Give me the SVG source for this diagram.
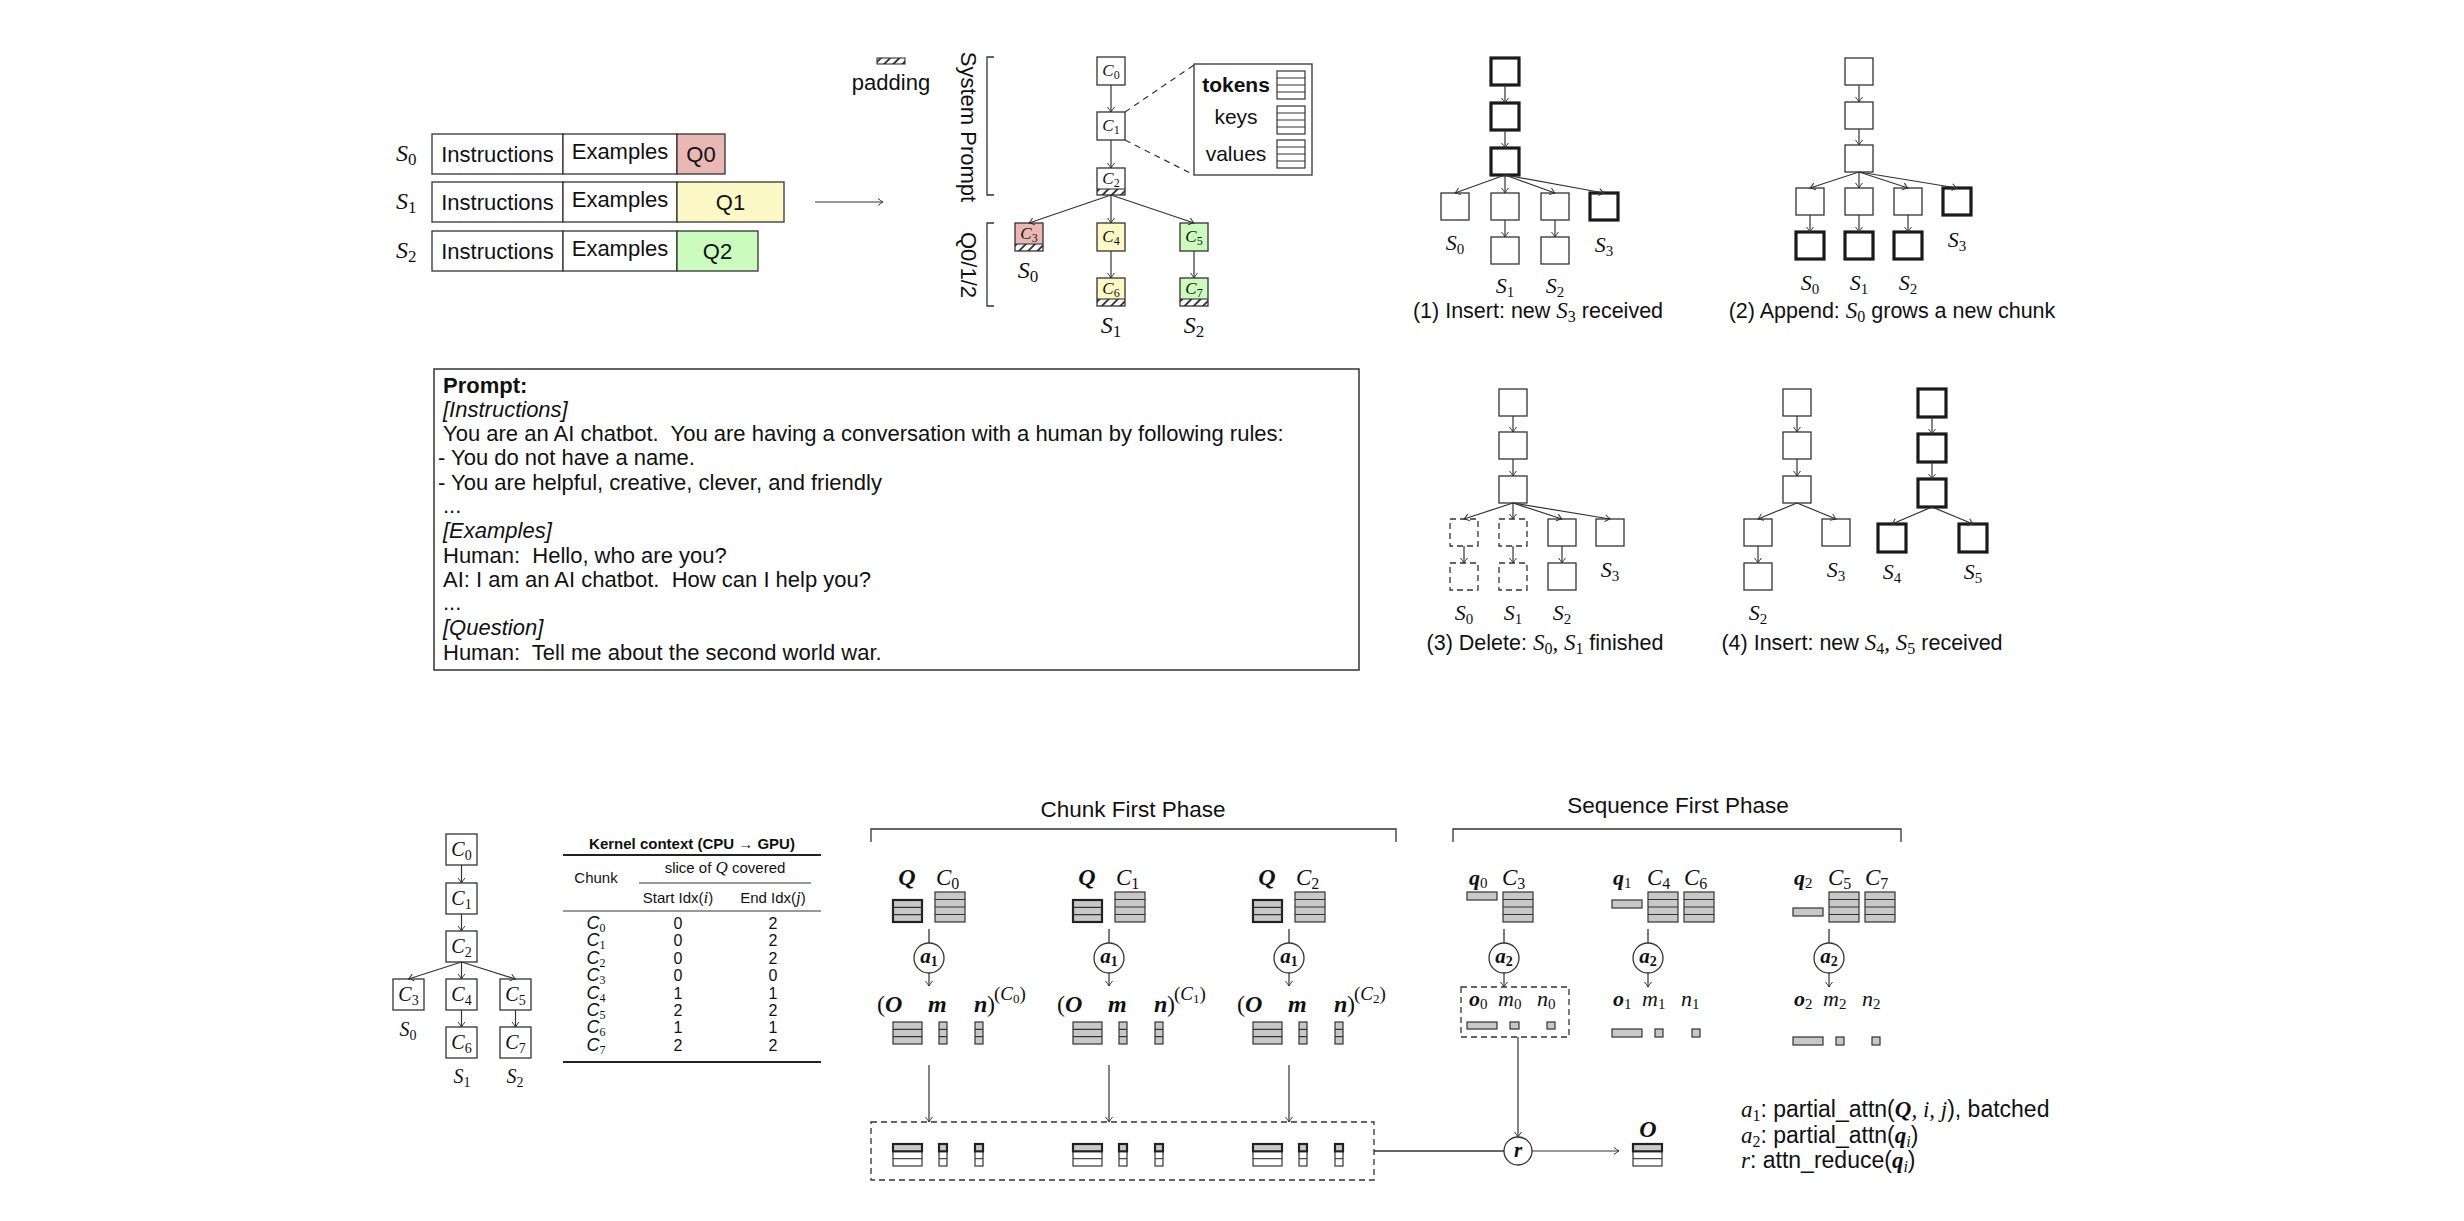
<svg xmlns="http://www.w3.org/2000/svg" width="2464" height="1221" viewBox="0 0 2464 1221">
<defs>
<style>
text{font-family:"Liberation Sans",Arial,sans-serif;fill:#111}
.si{font-family:"Liberation Sans",Arial,sans-serif;font-style:italic}
.b{font-weight:bold}
.m{font-family:"Liberation Serif","Times New Roman",serif;font-style:italic}
.mb{font-family:"Liberation Serif","Times New Roman",serif;font-style:italic;font-weight:bold}
.u{font-family:"Liberation Serif","Times New Roman",serif;font-style:normal;font-weight:normal}
.ub{font-family:"Liberation Serif","Times New Roman",serif;font-style:normal;font-weight:bold}
.box{fill:#fff;stroke:#333;stroke-width:1.3}
.tb{fill:#fff;stroke:#1a1a1a;stroke-width:3.2}
.db{fill:#fff;stroke:#333;stroke-width:1.3;stroke-dasharray:6 4}
.e{fill:none;stroke:#333;stroke-width:1.2;marker-end:url(#arr)}
.l{fill:none;stroke:#333;stroke-width:1.3}
.gf{fill:#c8c8c8;stroke:#333;stroke-width:1.2}
.wf{fill:#fff;stroke:#333;stroke-width:1.2}
.rl{fill:none;stroke:#333;stroke-width:1.1}
.circ{fill:#fff;stroke:#333;stroke-width:1.3}
.pink{fill:#eab8b3}
.yel{fill:#fcf9c6}
.grn{fill:#cbfcbd}
.t22{font-size:22px}
</style>
<marker id="arr" viewBox="-6 -5 7 10" refX="0" refY="0" markerWidth="7" markerHeight="10" markerUnits="userSpaceOnUse" orient="auto">
<path d="M-5,-3.5 Q-2,-1 0,0 Q-2,1 -5,3.5" fill="none" stroke="#333" stroke-width="1"/>
</marker>
<pattern id="hatch" patternUnits="userSpaceOnUse" width="6.5" height="6.5" patternTransform="rotate(45)">
<rect width="6.5" height="6.5" fill="#fff"/>
<line x1="1" y1="0" x2="1" y2="6.5" stroke="#111" stroke-width="1.6"/>
</pattern>
<g id="s4g"><rect class="gf" width="30" height="30"/><path class="rl" d="M0,7.5H30M0,15H30M0,22.5H30"/></g>
<g id="s3g"><rect class="gf" width="29" height="22"/><path class="rl" d="M0,7.33H29M0,14.67H29"/></g>
<g id="s3gt"><rect class="gf" width="29" height="22" style="stroke-width:2.2;stroke:#222"/><path class="rl" d="M0,7.33H29M0,14.67H29"/></g>
<g id="c3g"><rect class="gf" width="8" height="22"/><path class="rl" d="M0,7.33H8M0,14.67H8"/></g>
<g id="s3t"><rect class="wf" width="29" height="22"/><rect class="gf" width="29" height="7.33" style="stroke-width:2.2;stroke:#222"/><path class="rl" d="M0,14.67H29"/></g>
<g id="c3t"><rect class="wf" width="8" height="22"/><rect class="gf" width="8" height="7.33" style="stroke-width:2.2;stroke:#222"/><path class="rl" d="M0,14.67H8"/></g>
<g id="s4w"><rect class="wf" width="28" height="28"/><path class="rl" d="M0,7H28M0,14H28M0,21H28"/></g>
</defs>
<rect width="2464" height="1221" fill="#fff"/>

<!-- ===== Top-left: sequences ===== -->
<g id="seq-S0">
<text class="m" x="396" y="161" font-size="24">S<tspan class="u" font-size="17" dy="4">0</tspan></text>
<rect class="box" x="432" y="134" width="131" height="40"/>
<rect class="box" x="563" y="134" width="114" height="40"/>
<rect class="box pink" x="677" y="134" width="48" height="40"/>
<text class="t22" x="497.5" y="162" text-anchor="middle">Instructions</text>
<text class="t22" x="620" y="159" text-anchor="middle">Examples</text>
<text class="t22" x="701" y="162" text-anchor="middle">Q0</text>
</g>
<g id="seq-S1">
<text class="m" x="396" y="209" font-size="24">S<tspan class="u" font-size="17" dy="4">1</tspan></text>
<rect class="box" x="432" y="182" width="131" height="40"/>
<rect class="box" x="563" y="182" width="114" height="40"/>
<rect class="box yel" x="677" y="182" width="107" height="40"/>
<text class="t22" x="497.5" y="210" text-anchor="middle">Instructions</text>
<text class="t22" x="620" y="207" text-anchor="middle">Examples</text>
<text class="t22" x="730.5" y="210" text-anchor="middle">Q1</text>
</g>
<g id="seq-S2">
<text class="m" x="396" y="258" font-size="24">S<tspan class="u" font-size="17" dy="4">2</tspan></text>
<rect class="box" x="432" y="231" width="131" height="40"/>
<rect class="box" x="563" y="231" width="114" height="40"/>
<rect class="box grn" x="677" y="231" width="81" height="40"/>
<text class="t22" x="497.5" y="259" text-anchor="middle">Instructions</text>
<text class="t22" x="620" y="256" text-anchor="middle">Examples</text>
<text class="t22" x="717.5" y="259" text-anchor="middle">Q2</text>
</g>

<!-- ===== Top-middle tree ===== -->
<g id="legend-padding">
<rect x="877" y="58" width="28" height="6" fill="url(#hatch)" stroke="#222" stroke-width="1"/>
<text class="t22" x="891" y="90" text-anchor="middle">padding</text>
</g>
<g id="label-system-prompt">
<path class="l" d="M994,57H987V195H994"/>
<text class="t22" x="961" y="127" text-anchor="middle" transform="rotate(90 961 127)">System Prompt</text>
</g>
<g id="label-q012">
<path class="l" d="M994,223H987V306H994"/>
<text class="t22" x="961" y="265" text-anchor="middle" transform="rotate(90 961 265)">Q0/1/2</text>
</g>
<g id="node-C0">
<rect class="box" x="1097" y="57" width="28" height="28"/>
<text class="m" x="1111" y="76" font-size="17" text-anchor="middle">C<tspan class="u" font-size="12" dy="3">0</tspan></text>
</g>
<g id="node-C1">
<rect class="box" x="1097" y="112" width="28" height="28"/>
<text class="m" x="1111" y="131" font-size="17" text-anchor="middle">C<tspan class="u" font-size="12" dy="3">1</tspan></text>
</g>
<g id="node-C2">
<rect x="1097" y="189" width="28" height="6" fill="url(#hatch)"/>
<rect x="1097" y="168" width="28" height="27" fill="none" stroke="#333" stroke-width="1.3"/>
<path class="rl" d="M1097,189H1125"/>
<text class="m" x="1111" y="184" font-size="17" text-anchor="middle">C<tspan class="u" font-size="12" dy="3">2</tspan></text>
</g>
<g id="node-C3">
<rect class="pink" x="1015" y="223" width="28" height="21"/>
<rect x="1015" y="244" width="28" height="7" fill="url(#hatch)"/>
<rect x="1015" y="223" width="28" height="28" fill="none" stroke="#333" stroke-width="1.3"/>
<path class="rl" d="M1015,244H1043"/>
<text class="m" x="1029" y="239" font-size="17" text-anchor="middle">C<tspan class="u" font-size="12" dy="3">3</tspan></text>
<text class="m" x="1028" y="278" font-size="24" text-anchor="middle">S<tspan class="u" font-size="17" dy="4">0</tspan></text>
</g>
<g id="node-C4">
<rect class="box yel" x="1097" y="223" width="28" height="28"/>
<text class="m" x="1111" y="242" font-size="17" text-anchor="middle">C<tspan class="u" font-size="12" dy="3">4</tspan></text>
</g>
<g id="node-C5">
<rect class="box grn" x="1180" y="223" width="28" height="28"/>
<text class="m" x="1194" y="242" font-size="17" text-anchor="middle">C<tspan class="u" font-size="12" dy="3">5</tspan></text>
</g>
<g id="node-C6">
<rect class="yel" x="1097" y="278" width="28" height="21"/>
<rect x="1097" y="299" width="28" height="7" fill="url(#hatch)"/>
<rect x="1097" y="278" width="28" height="28" fill="none" stroke="#333" stroke-width="1.3"/>
<path class="rl" d="M1097,299H1125"/>
<text class="m" x="1111" y="294" font-size="17" text-anchor="middle">C<tspan class="u" font-size="12" dy="3">6</tspan></text>
<text class="m" x="1111" y="333" font-size="24" text-anchor="middle">S<tspan class="u" font-size="17" dy="4">1</tspan></text>
</g>
<g id="node-C7">
<rect class="grn" x="1180" y="278" width="28" height="21"/>
<rect x="1180" y="299" width="28" height="7" fill="url(#hatch)"/>
<rect x="1180" y="278" width="28" height="28" fill="none" stroke="#333" stroke-width="1.3"/>
<path class="rl" d="M1180,299H1208"/>
<text class="m" x="1194" y="294" font-size="17" text-anchor="middle">C<tspan class="u" font-size="12" dy="3">7</tspan></text>
<text class="m" x="1194" y="333" font-size="24" text-anchor="middle">S<tspan class="u" font-size="17" dy="4">2</tspan></text>
</g>
<g id="chunk-detail">
<rect class="box" x="1194" y="64" width="118" height="111"/>
<text class="b" x="1236" y="92" font-size="21" text-anchor="middle">tokens</text>
<text x="1236" y="124" font-size="21" text-anchor="middle">keys</text>
<text x="1236" y="161" font-size="21" text-anchor="middle">values</text>
<use href="#s4w" x="1277" y="71"/>
<use href="#s4w" x="1277" y="106"/>
<use href="#s4w" x="1277" y="140"/>
</g>

<!-- ===== Top-right trees (1),(2) ===== -->
<g id="tree1">
<rect class="tb" x="1491" y="58" width="28" height="27"/>
<rect class="tb" x="1491" y="103" width="28" height="27"/>
<rect class="tb" x="1491" y="148" width="28" height="27"/>
<rect class="box" x="1441" y="193" width="28" height="27"/>
<rect class="box" x="1491" y="193" width="28" height="27"/>
<rect class="box" x="1541" y="193" width="28" height="27"/>
<rect class="tb" x="1590" y="193" width="28" height="27"/>
<rect class="box" x="1491" y="237" width="28" height="27"/>
<rect class="box" x="1541" y="237" width="28" height="27"/>
<text class="m" x="1455" y="250" font-size="22" text-anchor="middle">S<tspan class="u" font-size="15" dy="4">0</tspan></text>
<text class="m" x="1604" y="252" font-size="22" text-anchor="middle">S<tspan class="u" font-size="15" dy="4">3</tspan></text>
<text class="m" x="1505" y="293" font-size="22" text-anchor="middle">S<tspan class="u" font-size="15" dy="4">1</tspan></text>
<text class="m" x="1555" y="293" font-size="22" text-anchor="middle">S<tspan class="u" font-size="15" dy="4">2</tspan></text>
<text x="1538" y="318" font-size="21.5" text-anchor="middle">(1) Insert: new <tspan class="m" font-size="23">S</tspan><tspan class="u" font-size="16" dy="4">3</tspan><tspan dy="-4"> received</tspan></text>
</g>
<g id="tree2">
<rect class="box" x="1845" y="58" width="28" height="27"/>
<rect class="box" x="1845" y="102" width="28" height="27"/>
<rect class="box" x="1845" y="145" width="28" height="27"/>
<rect class="box" x="1796" y="188" width="28" height="27"/>
<rect class="box" x="1845" y="188" width="28" height="27"/>
<rect class="box" x="1894" y="188" width="28" height="27"/>
<rect class="tb" x="1943" y="188" width="28" height="27"/>
<rect class="tb" x="1796" y="232" width="28" height="27"/>
<rect class="tb" x="1845" y="232" width="28" height="27"/>
<rect class="tb" x="1894" y="232" width="28" height="27"/>
<text class="m" x="1957" y="247" font-size="22" text-anchor="middle">S<tspan class="u" font-size="15" dy="4">3</tspan></text>
<text class="m" x="1810" y="290" font-size="22" text-anchor="middle">S<tspan class="u" font-size="15" dy="4">0</tspan></text>
<text class="m" x="1859" y="290" font-size="22" text-anchor="middle">S<tspan class="u" font-size="15" dy="4">1</tspan></text>
<text class="m" x="1908" y="290" font-size="22" text-anchor="middle">S<tspan class="u" font-size="15" dy="4">2</tspan></text>
<text x="1892" y="318" font-size="21.5" text-anchor="middle">(2) Append: <tspan class="m" font-size="23">S</tspan><tspan class="u" font-size="16" dy="4">0</tspan><tspan dy="-4"> grows a new chunk</tspan></text>
</g>

<!-- ===== Trees (3),(4) ===== -->
<g id="tree3">
<rect class="box" x="1499" y="389" width="28" height="27"/>
<rect class="box" x="1499" y="432" width="28" height="27"/>
<rect class="box" x="1499" y="476" width="28" height="27"/>
<rect class="db" x="1450" y="519" width="28" height="27"/>
<rect class="db" x="1499" y="519" width="28" height="27"/>
<rect class="box" x="1548" y="519" width="28" height="27"/>
<rect class="box" x="1596" y="519" width="28" height="27"/>
<rect class="db" x="1450" y="563" width="28" height="27"/>
<rect class="db" x="1499" y="563" width="28" height="27"/>
<rect class="box" x="1548" y="563" width="28" height="27"/>
<text class="m" x="1610" y="577" font-size="22" text-anchor="middle">S<tspan class="u" font-size="15" dy="4">3</tspan></text>
<text class="m" x="1464" y="620" font-size="22" text-anchor="middle">S<tspan class="u" font-size="15" dy="4">0</tspan></text>
<text class="m" x="1513" y="620" font-size="22" text-anchor="middle">S<tspan class="u" font-size="15" dy="4">1</tspan></text>
<text class="m" x="1562" y="620" font-size="22" text-anchor="middle">S<tspan class="u" font-size="15" dy="4">2</tspan></text>
<text x="1545" y="650" font-size="21.5" text-anchor="middle">(3) Delete: <tspan class="m" font-size="23">S</tspan><tspan class="u" font-size="16" dy="4">0</tspan><tspan class="m" font-size="23" dy="-4">, S</tspan><tspan class="u" font-size="16" dy="4">1</tspan><tspan dy="-4"> finished</tspan></text>
</g>
<g id="tree4">
<rect class="box" x="1783" y="389" width="28" height="27"/>
<rect class="box" x="1783" y="432" width="28" height="27"/>
<rect class="box" x="1783" y="476" width="28" height="27"/>
<rect class="box" x="1744" y="519" width="28" height="27"/>
<rect class="box" x="1822" y="519" width="28" height="27"/>
<rect class="box" x="1744" y="563" width="28" height="27"/>
<rect class="tb" x="1918" y="389" width="28" height="28"/>
<rect class="tb" x="1918" y="434" width="28" height="28"/>
<rect class="tb" x="1918" y="479" width="28" height="28"/>
<rect class="tb" x="1878" y="524" width="28" height="28"/>
<rect class="tb" x="1959" y="524" width="28" height="28"/>
<text class="m" x="1836" y="577" font-size="22" text-anchor="middle">S<tspan class="u" font-size="15" dy="4">3</tspan></text>
<text class="m" x="1758" y="620" font-size="22" text-anchor="middle">S<tspan class="u" font-size="15" dy="4">2</tspan></text>
<text class="m" x="1892" y="579" font-size="22" text-anchor="middle">S<tspan class="u" font-size="15" dy="4">4</tspan></text>
<text class="m" x="1973" y="579" font-size="22" text-anchor="middle">S<tspan class="u" font-size="15" dy="4">5</tspan></text>
<text x="1862" y="650" font-size="21.5" text-anchor="middle">(4) Insert: new <tspan class="m" font-size="23">S</tspan><tspan class="u" font-size="16" dy="4">4</tspan><tspan class="m" font-size="23" dy="-4">, S</tspan><tspan class="u" font-size="16" dy="4">5</tspan><tspan dy="-4"> received</tspan></text>
</g>

<!-- ===== Prompt box ===== -->
<g id="prompt">
<rect x="434" y="369" width="925" height="301" fill="#fff" stroke="#333" stroke-width="1.5"/>
<text class="b t22" x="443" y="393">Prompt:</text>
<text class="si t22" x="443" y="417">[Instructions]</text>
<text class="t22" x="443" y="441" xml:space="preserve">You are an AI chatbot.  You are having a conversation with a human by following rules:</text>
<text class="t22" x="438" y="465">- You do not have a name.</text>
<text class="t22" x="438" y="490">- You are helpful, creative, clever, and friendly</text>
<text class="t22" x="443" y="513">...</text>
<text class="si t22" x="443" y="538">[Examples]</text>
<text class="t22" x="443" y="563" xml:space="preserve">Human:  Hello, who are you?</text>
<text class="t22" x="443" y="587" xml:space="preserve">AI: I am an AI chatbot.  How can I help you?</text>
<text class="t22" x="443" y="610">...</text>
<text class="si t22" x="443" y="635">[Question]</text>
<text class="t22" x="443" y="660" xml:space="preserve">Human:  Tell me about the second world war.</text>
</g>

<!-- ===== Bottom-left tree ===== -->
<g id="bt-C0"><rect class="box" x="446" y="834" width="31" height="31"/><text class="m" x="461.5" y="856" font-size="20" text-anchor="middle">C<tspan class="u" font-size="14" dy="4">0</tspan></text></g>
<g id="bt-C1"><rect class="box" x="446" y="883" width="31" height="31"/><text class="m" x="461.5" y="905" font-size="20" text-anchor="middle">C<tspan class="u" font-size="14" dy="4">1</tspan></text></g>
<g id="bt-C2"><rect class="box" x="446" y="931" width="31" height="31"/><text class="m" x="461.5" y="953" font-size="20" text-anchor="middle">C<tspan class="u" font-size="14" dy="4">2</tspan></text></g>
<g id="bt-C3"><rect class="box" x="393" y="979" width="31" height="31"/><text class="m" x="408.5" y="1001" font-size="20" text-anchor="middle">C<tspan class="u" font-size="14" dy="4">3</tspan></text><text class="m" x="408" y="1036" font-size="20" text-anchor="middle">S<tspan class="u" font-size="14" dy="4">0</tspan></text></g>
<g id="bt-C4"><rect class="box" x="446" y="979" width="31" height="31"/><text class="m" x="461.5" y="1001" font-size="20" text-anchor="middle">C<tspan class="u" font-size="14" dy="4">4</tspan></text></g>
<g id="bt-C5"><rect class="box" x="500" y="979" width="31" height="31"/><text class="m" x="515.5" y="1001" font-size="20" text-anchor="middle">C<tspan class="u" font-size="14" dy="4">5</tspan></text></g>
<g id="bt-C6"><rect class="box" x="446" y="1027" width="31" height="31"/><text class="m" x="461.5" y="1049" font-size="20" text-anchor="middle">C<tspan class="u" font-size="14" dy="4">6</tspan></text><text class="m" x="462" y="1083" font-size="20" text-anchor="middle">S<tspan class="u" font-size="14" dy="4">1</tspan></text></g>
<g id="bt-C7"><rect class="box" x="500" y="1027" width="31" height="31"/><text class="m" x="515.5" y="1049" font-size="20" text-anchor="middle">C<tspan class="u" font-size="14" dy="4">7</tspan></text><text class="m" x="515" y="1083" font-size="20" text-anchor="middle">S<tspan class="u" font-size="14" dy="4">2</tspan></text></g>

<!-- ===== Kernel context table ===== -->
<g id="kernel-table" font-size="15">
<text class="b" x="692" y="849" text-anchor="middle">Kernel context (CPU <tspan class="u" font-weight="normal">→</tspan> GPU)</text>
<path d="M563,855H821" stroke="#222" stroke-width="1.8"/>
<text x="596" y="883" text-anchor="middle">Chunk</text>
<text x="725" y="873" text-anchor="middle">slice of <tspan class="m" font-size="17">Q</tspan> covered</text>
<path d="M639,883H811" stroke="#333" stroke-width="1"/>
<text x="678" y="903" text-anchor="middle">Start Idx(<tspan class="m" font-size="17">i</tspan>)</text>
<text x="773" y="903" text-anchor="middle">End Idx(<tspan class="m" font-size="17">j</tspan>)</text>
<path d="M563,911H821" stroke="#333" stroke-width="1.1"/>
<g class="m" font-size="18" text-anchor="middle">
<text x="596" y="929">C<tspan class="u" font-size="12" dy="3">0</tspan></text>
<text x="596" y="946.4">C<tspan class="u" font-size="12" dy="3">1</tspan></text>
<text x="596" y="963.8">C<tspan class="u" font-size="12" dy="3">2</tspan></text>
<text x="596" y="981.2">C<tspan class="u" font-size="12" dy="3">3</tspan></text>
<text x="596" y="998.6">C<tspan class="u" font-size="12" dy="3">4</tspan></text>
<text x="596" y="1016">C<tspan class="u" font-size="12" dy="3">5</tspan></text>
<text x="596" y="1033.4">C<tspan class="u" font-size="12" dy="3">6</tspan></text>
<text x="596" y="1050.8">C<tspan class="u" font-size="12" dy="3">7</tspan></text>
</g>
<g text-anchor="middle" font-size="16">
<text x="678" y="929">0</text><text x="773" y="929">2</text>
<text x="678" y="946.4">0</text><text x="773" y="946.4">2</text>
<text x="678" y="963.8">0</text><text x="773" y="963.8">2</text>
<text x="678" y="981.2">0</text><text x="773" y="981.2">0</text>
<text x="678" y="998.6">1</text><text x="773" y="998.6">1</text>
<text x="678" y="1016">2</text><text x="773" y="1016">2</text>
<text x="678" y="1033.4">1</text><text x="773" y="1033.4">1</text>
<text x="678" y="1050.8">2</text><text x="773" y="1050.8">2</text>
</g>
<path d="M563,1062H821" stroke="#222" stroke-width="1.8"/>
</g>

<!-- ===== Chunk First Phase ===== -->
<g id="chunk-first-phase-label">
<text x="1133" y="817" font-size="22.5" text-anchor="middle">Chunk First Phase</text>
<path class="l" d="M871,842V829H1396V842"/>
</g>
<g id="cf-C0">
<text class="mb" x="907" y="885" font-size="24" text-anchor="middle">Q</text>
<text class="m" x="936" y="885" font-size="23">C<tspan class="u" font-size="16" dy="4">0</tspan></text>
<use href="#s3gt" x="893" y="900"/>
<use href="#s4g" x="935" y="892"/>
<text class="u" x="877" y="1012" font-size="24">(</text>
<text class="mb" x="885" y="1012" font-size="24">O</text>
<text class="mb" x="928" y="1012" font-size="24">m</text>
<text class="mb" x="974" y="1012" font-size="24">n</text>
<text class="u" x="987" y="1012" font-size="24">)</text>
<text x="994" y="1000" font-size="19"><tspan class="u">(</tspan><tspan class="m">C</tspan><tspan class="u" font-size="13" dy="3">0</tspan><tspan class="u" dy="-3">)</tspan></text>
<use href="#s3g" x="893" y="1022"/>
<use href="#c3g" x="939" y="1022"/>
<use href="#c3g" x="975" y="1022"/>
</g>
<g id="cf-C1" transform="translate(180,0)">
<text class="mb" x="907" y="885" font-size="24" text-anchor="middle">Q</text>
<text class="m" x="936" y="885" font-size="23">C<tspan class="u" font-size="16" dy="4">1</tspan></text>
<use href="#s3gt" x="893" y="900"/>
<use href="#s4g" x="935" y="892"/>
<text class="u" x="877" y="1012" font-size="24">(</text>
<text class="mb" x="885" y="1012" font-size="24">O</text>
<text class="mb" x="928" y="1012" font-size="24">m</text>
<text class="mb" x="974" y="1012" font-size="24">n</text>
<text class="u" x="987" y="1012" font-size="24">)</text>
<text x="994" y="1000" font-size="19"><tspan class="u">(</tspan><tspan class="m">C</tspan><tspan class="u" font-size="13" dy="3">1</tspan><tspan class="u" dy="-3">)</tspan></text>
<use href="#s3g" x="893" y="1022"/>
<use href="#c3g" x="939" y="1022"/>
<use href="#c3g" x="975" y="1022"/>
</g>
<g id="cf-C2" transform="translate(360,0)">
<text class="mb" x="907" y="885" font-size="24" text-anchor="middle">Q</text>
<text class="m" x="936" y="885" font-size="23">C<tspan class="u" font-size="16" dy="4">2</tspan></text>
<use href="#s3gt" x="893" y="900"/>
<use href="#s4g" x="935" y="892"/>
<text class="u" x="877" y="1012" font-size="24">(</text>
<text class="mb" x="885" y="1012" font-size="24">O</text>
<text class="mb" x="928" y="1012" font-size="24">m</text>
<text class="mb" x="974" y="1012" font-size="24">n</text>
<text class="u" x="987" y="1012" font-size="24">)</text>
<text x="994" y="1000" font-size="19"><tspan class="u">(</tspan><tspan class="m">C</tspan><tspan class="u" font-size="13" dy="3">2</tspan><tspan class="u" dy="-3">)</tspan></text>
<use href="#s3g" x="893" y="1022"/>
<use href="#c3g" x="939" y="1022"/>
<use href="#c3g" x="975" y="1022"/>
</g>
<g id="op-a1-0"><circle class="circ" cx="929" cy="958" r="15"/><text class="mb" x="929" y="963" font-size="21" text-anchor="middle">a<tspan class="ub" font-size="14" dy="3">1</tspan></text></g>
<g id="op-a1-1"><circle class="circ" cx="1109" cy="958" r="15"/><text class="mb" x="1109" y="963" font-size="21" text-anchor="middle">a<tspan class="ub" font-size="14" dy="3">1</tspan></text></g>
<g id="op-a1-2"><circle class="circ" cx="1289" cy="958" r="15"/><text class="mb" x="1289" y="963" font-size="21" text-anchor="middle">a<tspan class="ub" font-size="14" dy="3">1</tspan></text></g>
<g id="cf-buffer">
<rect class="db" x="871" y="1122" width="503" height="58"/>
<use href="#s3t" x="893" y="1144"/><use href="#c3t" x="939" y="1144"/><use href="#c3t" x="975" y="1144"/>
<use href="#s3t" x="1073" y="1144"/><use href="#c3t" x="1119" y="1144"/><use href="#c3t" x="1155" y="1144"/>
<use href="#s3t" x="1253" y="1144"/><use href="#c3t" x="1299" y="1144"/><use href="#c3t" x="1335" y="1144"/>
</g>

<!-- ===== Sequence First Phase ===== -->
<g id="seq-first-phase-label">
<text x="1678" y="813" font-size="22.5" text-anchor="middle">Sequence First Phase</text>
<path class="l" d="M1453,842V829H1901V842"/>
</g>
<g id="sf-q0">
<text class="mb" x="1469" y="885" font-size="22">q<tspan class="u" font-size="15" dy="3">0</tspan></text>
<text class="m" x="1502" y="885" font-size="23">C<tspan class="u" font-size="16" dy="4">3</tspan></text>
<rect class="gf" x="1467" y="892" width="30" height="8"/>
<use href="#s4g" x="1503" y="892"/>
</g>
<g id="sf-out0">
<rect class="db" x="1461" y="987" width="108" height="50" style="fill:none"/>
<text class="mb" x="1469" y="1006" font-size="22">o<tspan class="u" font-size="15" dy="3">0</tspan></text>
<text class="m" x="1498" y="1006" font-size="22">m<tspan class="u" font-size="15" dy="3">0</tspan></text>
<text class="m" x="1537" y="1006" font-size="22">n<tspan class="u" font-size="15" dy="3">0</tspan></text>
<rect class="gf" x="1467" y="1022" width="30" height="7"/>
<rect class="gf" x="1510" y="1022" width="9" height="7"/>
<rect class="gf" x="1547" y="1022" width="8" height="7"/>
</g>
<g id="sf-q1">
<text class="mb" x="1613" y="885" font-size="22">q<tspan class="u" font-size="15" dy="3">1</tspan></text>
<text class="m" x="1647" y="885" font-size="23">C<tspan class="u" font-size="16" dy="4">4</tspan></text>
<text class="m" x="1684" y="885" font-size="23">C<tspan class="u" font-size="16" dy="4">6</tspan></text>
<rect class="gf" x="1612" y="900" width="30" height="8"/>
<use href="#s4g" x="1648" y="892"/>
<use href="#s4g" x="1684" y="892"/>
</g>
<g id="sf-out1">
<text class="mb" x="1613" y="1006" font-size="22">o<tspan class="u" font-size="15" dy="3">1</tspan></text>
<text class="m" x="1642" y="1006" font-size="22">m<tspan class="u" font-size="15" dy="3">1</tspan></text>
<text class="m" x="1681" y="1006" font-size="22">n<tspan class="u" font-size="15" dy="3">1</tspan></text>
<rect class="gf" x="1612" y="1029" width="30" height="8"/>
<rect class="gf" x="1655" y="1029" width="8" height="8"/>
<rect class="gf" x="1692" y="1029" width="8" height="8"/>
</g>
<g id="sf-q2">
<text class="mb" x="1794" y="885" font-size="22">q<tspan class="u" font-size="15" dy="3">2</tspan></text>
<text class="m" x="1828" y="885" font-size="23">C<tspan class="u" font-size="16" dy="4">5</tspan></text>
<text class="m" x="1865" y="885" font-size="23">C<tspan class="u" font-size="16" dy="4">7</tspan></text>
<rect class="gf" x="1793" y="908" width="30" height="8"/>
<use href="#s4g" x="1829" y="892"/>
<use href="#s4g" x="1865" y="892"/>
</g>
<g id="sf-out2">
<text class="mb" x="1794" y="1006" font-size="22">o<tspan class="u" font-size="15" dy="3">2</tspan></text>
<text class="m" x="1823" y="1006" font-size="22">m<tspan class="u" font-size="15" dy="3">2</tspan></text>
<text class="m" x="1862" y="1006" font-size="22">n<tspan class="u" font-size="15" dy="3">2</tspan></text>
<rect class="gf" x="1793" y="1037" width="30" height="8"/>
<rect class="gf" x="1836" y="1037" width="8" height="8"/>
<rect class="gf" x="1872" y="1037" width="8" height="8"/>
</g>
<g id="op-a2-0"><circle class="circ" cx="1504" cy="958" r="15"/><text class="mb" x="1504" y="963" font-size="21" text-anchor="middle">a<tspan class="ub" font-size="14" dy="3">2</tspan></text></g>
<g id="op-a2-1"><circle class="circ" cx="1648" cy="958" r="15"/><text class="mb" x="1648" y="963" font-size="21" text-anchor="middle">a<tspan class="ub" font-size="14" dy="3">2</tspan></text></g>
<g id="op-a2-2"><circle class="circ" cx="1829" cy="958" r="15"/><text class="mb" x="1829" y="963" font-size="21" text-anchor="middle">a<tspan class="ub" font-size="14" dy="3">2</tspan></text></g>
<g id="op-r"><circle class="circ" cx="1518" cy="1151" r="14"/><text class="mb" x="1518" y="1157" font-size="21" text-anchor="middle">r</text></g>
<g id="out-O">
<text class="mb" x="1648" y="1137" font-size="24" text-anchor="middle">O</text>
<use href="#s3t" x="1633" y="1144"/>
</g>

<!-- ===== Legend ===== -->
<g id="legend" font-size="23">
<text x="1741" y="1117"><tspan class="m">a</tspan><tspan class="u" font-size="16" dy="4">1</tspan><tspan dy="-4">: partial_attn(</tspan><tspan class="mb">Q</tspan><tspan class="m">, i, j</tspan><tspan>), batched</tspan></text>
<text x="1741" y="1143"><tspan class="m">a</tspan><tspan class="u" font-size="16" dy="4">2</tspan><tspan dy="-4">: partial_attn(</tspan><tspan class="mb">q</tspan><tspan class="m" font-size="16" dy="4">i</tspan><tspan dy="-4">)</tspan></text>
<text x="1741" y="1168"><tspan class="m">r</tspan><tspan>: attn_reduce(</tspan><tspan class="mb">q</tspan><tspan class="m" font-size="16" dy="4">i</tspan><tspan dy="-4">)</tspan></text>
</g>

<!-- ===== Connectors ===== -->
<g id="connectors">
<path class="e" d="M815,202H883"/>
<path class="e" d="M1111,85V112"/>
<path class="e" d="M1111,140V168"/>
<path class="e" d="M1111,195L1029,223"/>
<path class="e" d="M1111,195V223"/>
<path class="e" d="M1111,195L1194,223"/>
<path class="e" d="M1111,251V278"/>
<path class="e" d="M1194,251V278"/>
<path d="M1125,112L1194,65M1125,140L1194,175" fill="none" stroke="#333" stroke-width="1.2" stroke-dasharray="6 5"/>
<path class="e" d="M1505,85V103"/>
<path class="e" d="M1505,130V148"/>
<path class="e" d="M1505,175L1455,193"/>
<path class="e" d="M1505,175V193"/>
<path class="e" d="M1505,175L1555,193"/>
<path class="e" d="M1505,175L1604,193"/>
<path class="e" d="M1505,220V237"/>
<path class="e" d="M1555,220V237"/>
<path class="e" d="M1859,85V102"/>
<path class="e" d="M1859,129V145"/>
<path class="e" d="M1859,172L1810,188"/>
<path class="e" d="M1859,172V188"/>
<path class="e" d="M1859,172L1908,188"/>
<path class="e" d="M1859,172L1957,188"/>
<path class="e" d="M1810,215V232"/>
<path class="e" d="M1859,215V232"/>
<path class="e" d="M1908,215V232"/>
<path class="e" d="M1513,416V432"/>
<path class="e" d="M1513,459V476"/>
<path class="e" d="M1513,503L1464,519"/>
<path class="e" d="M1513,503V519"/>
<path class="e" d="M1513,503L1562,519"/>
<path class="e" d="M1513,503L1610,519"/>
<path class="e" d="M1464,546V563"/>
<path class="e" d="M1513,546V563"/>
<path class="e" d="M1562,546V563"/>
<path class="e" d="M1797,416V432"/>
<path class="e" d="M1797,459V476"/>
<path class="e" d="M1797,503L1758,519"/>
<path class="e" d="M1797,503L1836,519"/>
<path class="e" d="M1758,546V563"/>
<path class="e" d="M1932,417V434"/>
<path class="e" d="M1932,462V479"/>
<path class="e" d="M1932,507L1892,524"/>
<path class="e" d="M1932,507L1973,524"/>
<path class="e" d="M461.5,865V883"/>
<path class="e" d="M461.5,914V931"/>
<path class="e" d="M461.5,962L408.5,979"/>
<path class="e" d="M461.5,962V979"/>
<path class="e" d="M461.5,962L515.5,979"/>
<path class="e" d="M461.5,1010V1027"/>
<path class="e" d="M515.5,1010V1027"/>
<path class="l" d="M929,929V943M1109,929V943M1289,929V943"/>
<path class="e" d="M929,973V986"/>
<path class="e" d="M1109,973V986"/>
<path class="e" d="M1289,973V986"/>
<path class="e" d="M929,1065V1122"/>
<path class="e" d="M1109,1065V1122"/>
<path class="e" d="M1289,1065V1122"/>
<path class="l" d="M1504,929V943M1648,929V943M1829,929V943"/>
<path class="e" d="M1504,973V987"/>
<path class="e" d="M1648,973V987"/>
<path class="e" d="M1829,973V987"/>
<path class="e" d="M1518,1037V1137"/>
<path class="l" d="M1374,1151H1504"/>
<path class="e" d="M1532,1151H1619"/>
</g>
</svg>
